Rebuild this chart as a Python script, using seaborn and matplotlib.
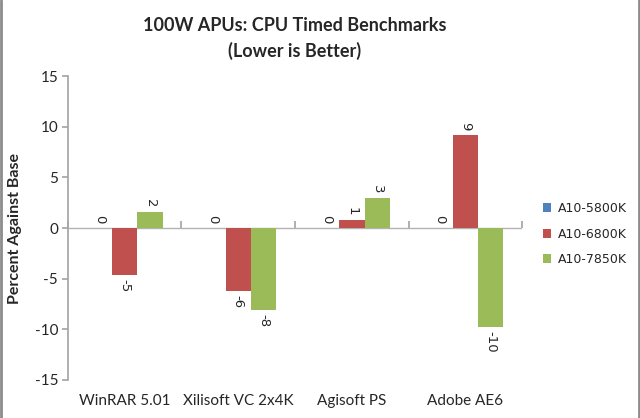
import pandas as pd
import seaborn as sns
import matplotlib.pyplot as plt
from matplotlib.lines import Line2D

# data
benchmarks = ["WinRAR 5.01", "Xilisoft VC 2x4K", "Agisoft PS", "Adobe AE6"]
apus = ["A10-5800K", "A10-6800K", "A10-7850K"]
a10_5800k = [0, 0, 0, 0]
a10_6800k = [-4.6, -6.2, 0.8, 9.2]
a10_7850k = [1.6, -8.1, 3.0, -9.8]
colors = ["#4F81BD", "#C0504D", "#9BBB59"]

rows = []
for apu, vals in zip(apus, [a10_5800k, a10_6800k, a10_7850k]):
    for b, v in zip(benchmarks, vals):
        rows.append({"Benchmark": b, "APU": apu, "Percent": v})
df = pd.DataFrame(rows)

sns.set_theme(style="white")
plt.rcParams["font.family"] = ["Lato", "DejaVu Sans"]
plt.rcParams["axes.unicode_minus"] = False

fig = plt.figure(figsize=(6.4, 4.18), dpi=100)
ax = fig.add_axes([0.106, 0.091, 0.71, 0.727])

ax.axhline(0, color="#b3b3b3", lw=1, zorder=0.5)

sns.barplot(data=df, x="Benchmark", y="Percent", hue="APU", palette=colors,
            width=0.67, ax=ax, errorbar=None, saturation=1, linewidth=0)

for c in ax.containers:
    ax.bar_label(c, fmt="%.0f", rotation=-90, padding=3, fontsize=9.5,
                 family="DejaVu Sans")

ax.set_ylim(-15, 15)
ax.set_yticks(range(-15, 16, 5))
ax.set_xlim(-0.5, 3.5)
ax.set_xlabel("")
ax.set_ylabel("Percent Against Base", fontsize=11.5, fontweight="bold", labelpad=9)
ax.set_title("100W APUs: CPU Timed Benchmarks\n(Lower is Better)",
             fontsize=13, fontweight="bold", pad=14, linespacing=1.5)

for s in ["top", "right", "bottom"]:
    ax.spines[s].set_visible(False)
ax.spines["left"].set_color("#a6a6a6")
ax.tick_params(axis="y", direction="out", length=4, color="#a6a6a6",
               labelsize=11, left=True, pad=3)
ax.tick_params(axis="x", length=0, labelsize=11, pad=10)

# category boundary ticks on the zero line
zero = ax.secondary_xaxis(0.5)
zero.set_xticks([-0.5, 0.5, 1.5, 2.5, 3.5])
zero.set_xticklabels([])
zero.tick_params(direction="out", length=5, color="#a6a6a6")
for sp in zero.spines.values():
    sp.set_visible(False)

sns.move_legend(ax, "center left", bbox_to_anchor=(1.02, 0.48), frameon=False,
                title=None, fontsize=9, handlelength=0.7, handleheight=0.7,
                handletextpad=0.5, labelspacing=1.0)
for t in ax.get_legend().get_texts():
    t.set_family("DejaVu Sans")

# chart border on the sides
fig.add_artist(Line2D([0.002, 0.002], [0, 1], color="#8c8c8c", lw=2))
fig.add_artist(Line2D([0.998, 0.998], [0, 1], color="#8c8c8c", lw=2))

fig.savefig("out.png", dpi=100)
